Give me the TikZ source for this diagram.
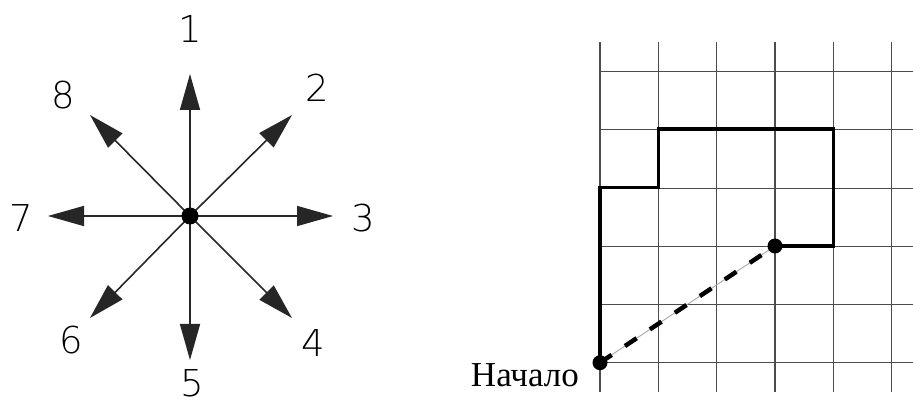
\documentclass[tikz,border=0pt]{standalone}
\usepackage{fontspec}
\setmainfont{Liberation Serif}
\newfontfamily\digitfont{DejaVu Sans ExtraLight}
\usetikzlibrary{arrows.meta}
\tikzset{
  dirarrow/.style={draw=black!85, line width=1.6pt, -{Triangle[length=36pt,width=20pt]}},
  dirlabel/.style={font=\digitfont\fontsize{37}{37}\selectfont, inner sep=0pt},
  dotnode/.style={circle, fill=black, inner sep=0pt, minimum size=17pt},
  gridline/.style={draw=black!70, line width=1.1pt},
  pathline/.style={draw=black, line width=3.6pt, line join=miter},
  dashline/.style={draw=black, line width=4.5pt, dash pattern=on 14pt off 16pt},
  thinline/.style={draw=black!35, line width=0.9pt},
}
\begin{document}
\begin{tikzpicture}[x=1pt,y=-1pt]
\useasboundingbox (0,0) rectangle (913,403);
% compass
\coordinate (t1) at (190,74);
\coordinate (t2) at (292,115);
\coordinate (t3) at (333,216);
\coordinate (t4) at (292,318);
\coordinate (t5) at (190,360);
\coordinate (t6) at (90,318);
\coordinate (t7) at (48,216);
\coordinate (t8) at (90,115);
\foreach \i in {1,...,8} {\draw[dirarrow] (190,216) -- (t\i);}
\node[dotnode] (c) at (190,216) {};
\node[dirlabel] (l1) at (190,29) {1};
\node[dirlabel] (l2) at (317,88) {2};
\node[dirlabel] (l3) at (363,218) {3};
\node[dirlabel] (l4) at (313,343) {4};
\node[dirlabel] (l5) at (192,383) {5};
\node[dirlabel] (l6) at (71,340) {6};
\node[dirlabel] (l7) at (21,218) {7};
\node[dirlabel] (l8) at (63,95) {8};
% grid
\foreach \k in {0,...,5} {
  \draw[gridline] ({600+58.33*\k},42) -- ({600+58.33*\k},392);
  \draw[gridline] (600,{362.7-58.2*\k}) -- (913,{362.7-58.2*\k});
}
\coordinate (p0) at (600,362.7);
\coordinate (p1) at (600,187.5);
\coordinate (p2) at (658.3,187.5);
\coordinate (p3) at (658.3,129.3);
\coordinate (p4) at (833.3,129.3);
\coordinate (p5) at (833.3,246);
\coordinate (p6) at (775,246);
\draw[pathline] (p0) -- (p1) -- (p2) -- (p3) -- (p4) -- (p5) -- (p6);
\draw[thinline] (p0) -- (p6);
\draw[dashline] (p0) -- (p6);
\node[dotnode, minimum size=15pt] (s) at (p0) {};
\node[dotnode, minimum size=15pt] (e) at (p6) {};
\node[anchor=base east, inner sep=0pt, font=\fontsize{35}{35}\selectfont] (lab) at (579,386) {Начало};
\end{tikzpicture}
\end{document}
